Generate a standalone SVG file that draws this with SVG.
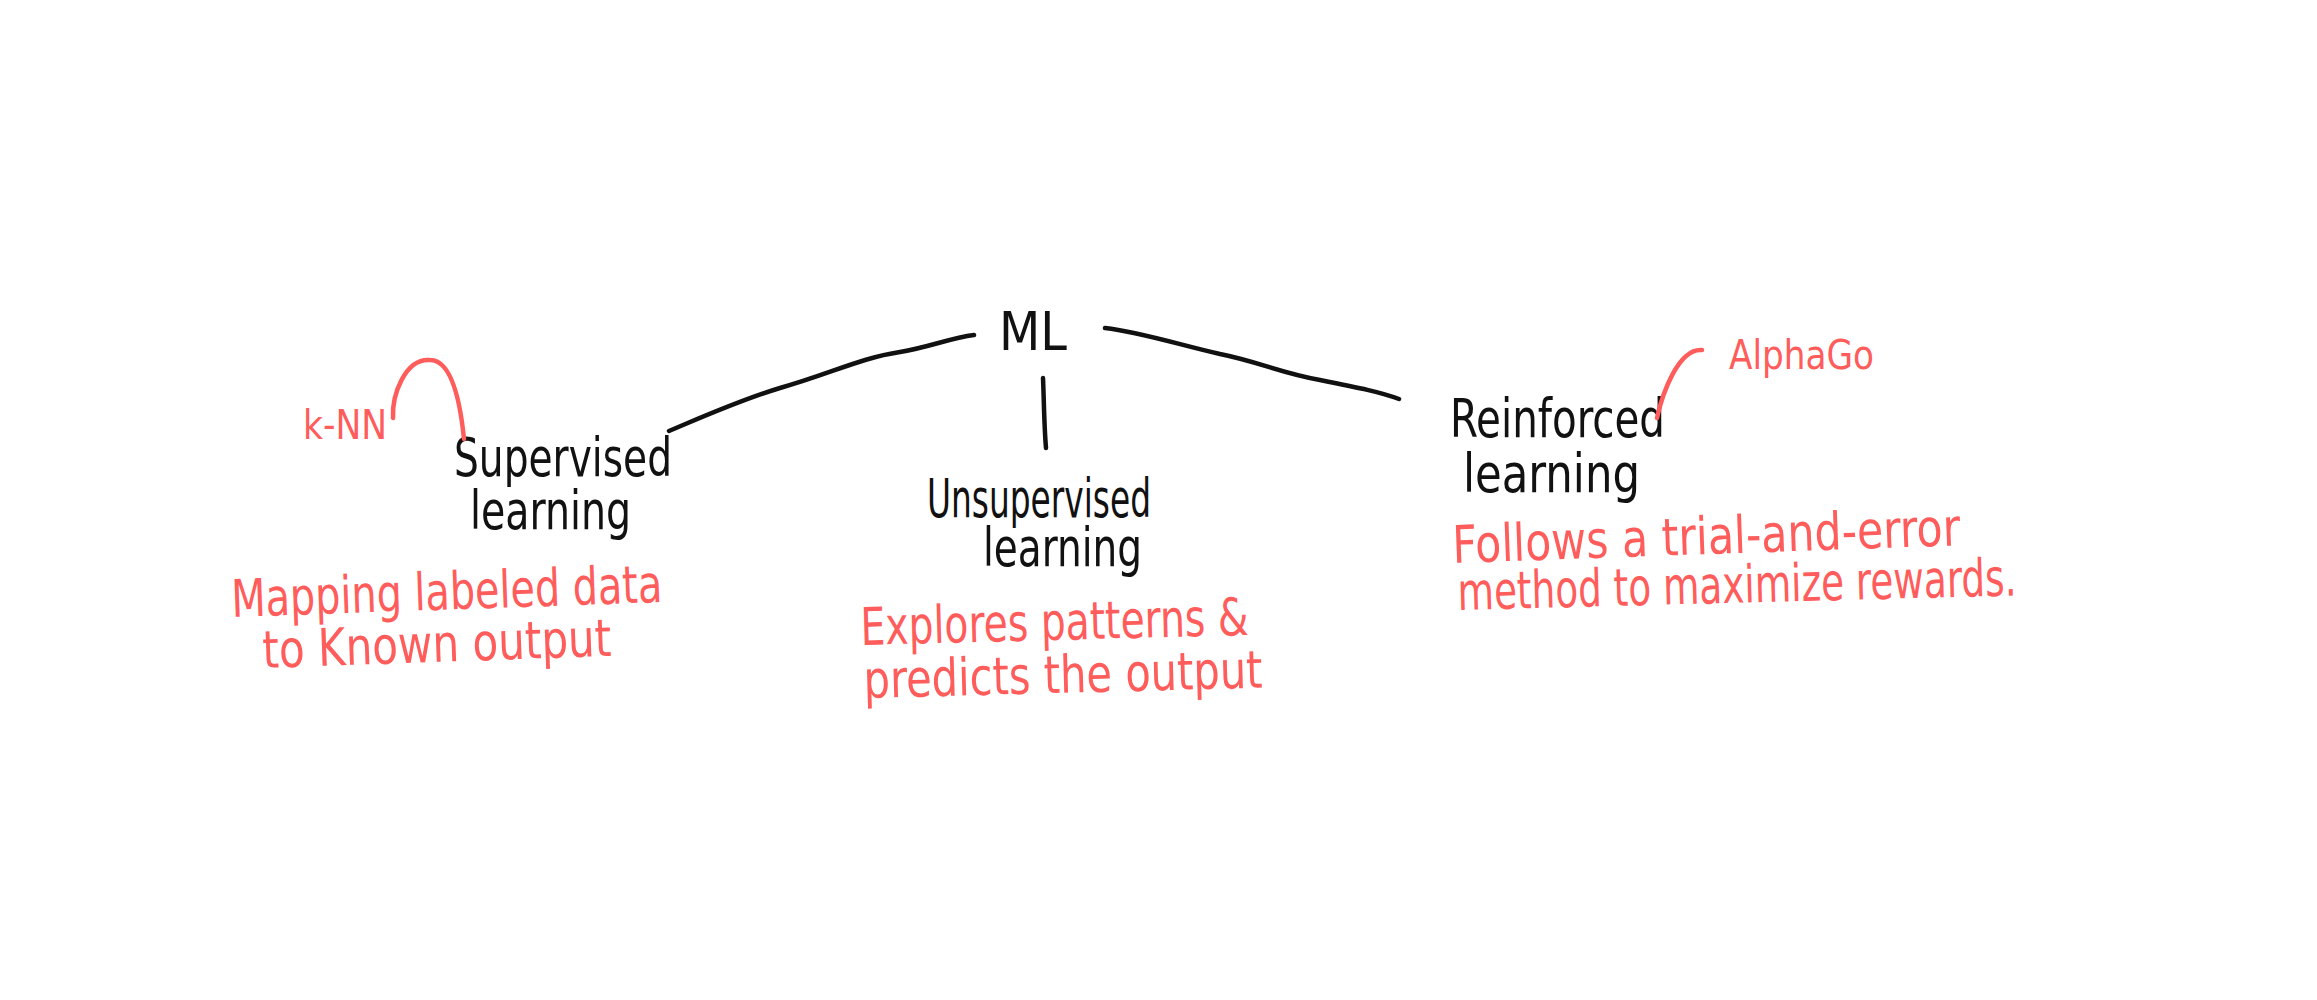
<svg xmlns="http://www.w3.org/2000/svg" width="2317" height="1000" viewBox="0 0 2317 1000">
<style>
text{font-family:"Liberation Sans Narrow","DejaVu Sans Condensed","Liberation Sans",sans-serif;}
.k{fill:#111;font-size:54px;}
.r{fill:#FF5C5C;font-size:52px;}
.rs{fill:#FF5C5C;font-size:40px;}
.ln{fill:none;stroke:#111;stroke-width:4.5;stroke-linecap:round;stroke-linejoin:round;}
.rl{fill:none;stroke:#FF5C5C;stroke-width:4.5;stroke-linecap:round;}
</style>
<rect width="2317" height="1000" fill="#fff"/>
<g id="connectors">
<path class="ln" d="M669,431 C700,418 740,400 780,388 C830,374 860,358 900,352 C930,347 950,338 974,335"/>
<path class="ln" d="M1043,378 C1044,400 1044,425 1046,448"/>
<path class="ln" d="M1105,328 C1140,332 1180,345 1220,354 C1260,362 1280,373 1320,380 C1360,388 1380,392 1399,399"/>
</g>
<g id="ml"><text class="k" x="999" y="350" textLength="68" lengthAdjust="spacingAndGlyphs">ML</text></g>
<g id="supervised">
<text class="k" x="454" y="476" textLength="218" lengthAdjust="spacingAndGlyphs">Supervised</text>
<text class="k" x="470" y="529" textLength="161" lengthAdjust="spacingAndGlyphs">learning</text>
</g>
<g id="unsupervised">
<text class="k" x="927" y="517" textLength="224" lengthAdjust="spacingAndGlyphs">Unsupervised</text>
<text class="k" x="983" y="566" textLength="159" lengthAdjust="spacingAndGlyphs">learning</text>
</g>
<g id="reinforced">
<text class="k" x="1450" y="437" textLength="215" lengthAdjust="spacingAndGlyphs">Reinforced</text>
<text class="k" x="1463" y="492" textLength="177" lengthAdjust="spacingAndGlyphs">learning</text>
</g>
<g id="knn">
<text class="rs" x="303" y="439" textLength="84" lengthAdjust="spacingAndGlyphs">k-NN</text>
<path class="rl" d="M393,418 C392,395 405,358 430,360 C445,360 458,380 464,439"/>
</g>
<g id="alphago">
<text class="rs" x="1729" y="369" textLength="145" lengthAdjust="spacingAndGlyphs">AlphaGo</text>
<path class="rl" d="M1657,418 C1662,395 1678,348 1702,350"/>
</g>
<g id="desc-supervised">
<text class="r" x="232" y="617" textLength="431" lengthAdjust="spacingAndGlyphs" transform="rotate(-2 232 617)">Mapping labeled data</text>
<text class="r" x="263" y="668" textLength="349" lengthAdjust="spacingAndGlyphs" transform="rotate(-2 263 668)">to Known output</text>
</g>
<g id="desc-unsupervised">
<text class="r" x="861" y="645" textLength="388" lengthAdjust="spacingAndGlyphs" transform="rotate(-1.5 861 645)">Explores patterns &amp;</text>
<text class="r" x="864" y="698" textLength="399" lengthAdjust="spacingAndGlyphs" transform="rotate(-1.5 864 698)">predicts the output</text>
</g>
<g id="desc-reinforced">
<text class="r" x="1453" y="563" textLength="508" lengthAdjust="spacingAndGlyphs" transform="rotate(-2 1453 563)">Follows a trial-and-error</text>
<text class="r" x="1458" y="610" textLength="559" lengthAdjust="spacingAndGlyphs" transform="rotate(-1.5 1458 610)">method to maximize rewards.</text>
</g>
</svg>
